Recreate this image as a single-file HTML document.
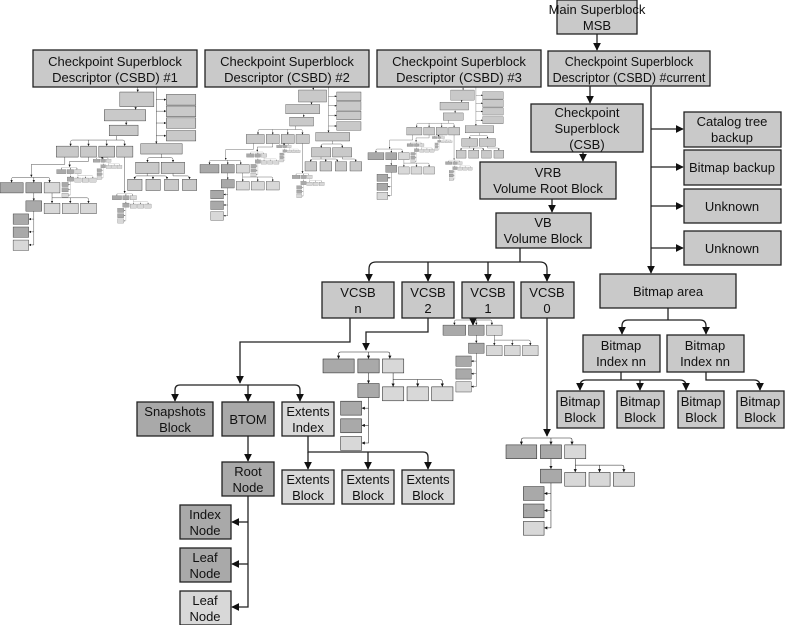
<!DOCTYPE html>
<html><head><meta charset="utf-8"><style>
html,body{margin:0;padding:0;background:#fff;width:788px;height:625px;overflow:hidden}
svg{display:block}
text{font-family:"Liberation Sans",Arial,sans-serif;font-size:13px;fill:#111;text-anchor:middle}
text.s{font-size:12.5px}
</style></head><body>
<svg width="788" height="625" viewBox="0 0 788 625" xmlns="http://www.w3.org/2000/svg">
<defs>
<marker id="a" viewBox="0 0 10 10" refX="9" refY="5" markerWidth="6" markerHeight="6" orient="auto"><path d="M0,0 L10,5 L0,10z" fill="#111"/></marker>
<g id="sub">
 <g fill="none" stroke="#222" stroke-width="1.3">
  <path d="M111,0 H43 Q38,0 38,5 V16" marker-end="url(#a)"/>
  <path d="M111,0 H158 Q163,0 163,5 V16" marker-end="url(#a)"/>
  <path d="M111,0 V16" marker-end="url(#a)"/>
  <path d="M111,51 V76" marker-end="url(#a)"/>
  <path d="M171,51 V67 H286 Q291,67 291,72 V84" marker-end="url(#a)"/>
  <path d="M171,67 V84" marker-end="url(#a)"/>
  <path d="M231,67 V84" marker-end="url(#a)"/>
  <path d="M111,111 V222 H95" marker-end="url(#a)"/>
  <path d="M111,137 H95" marker-end="url(#a)"/>
  <path d="M111,179 H95" marker-end="url(#a)"/>
 </g>
 <g stroke="#222" stroke-width="1.3">
  <rect x="0" y="17" width="76" height="34" fill="#a9a9a9"/>
  <rect x="85" y="17" width="52" height="34" fill="#a9a9a9"/>
  <rect x="145" y="17" width="52" height="34" fill="#d8d8d8"/>
  <rect x="85" y="77" width="52" height="34" fill="#a9a9a9"/>
  <rect x="145" y="85" width="52" height="34" fill="#d8d8d8"/>
  <rect x="205" y="85" width="52" height="34" fill="#d8d8d8"/>
  <rect x="265" y="85" width="52" height="34" fill="#d8d8d8"/>
  <rect x="43" y="120" width="51" height="34" fill="#a9a9a9"/>
  <rect x="43" y="163" width="51" height="34" fill="#a9a9a9"/>
  <rect x="43" y="206" width="51" height="34" fill="#d8d8d8"/>
 </g>
</g>
<g id="big">
 <g fill="none" stroke="#222" stroke-width="1.3">
  <path d="M590,86 V103" marker-end="url(#a)"/>
  <path d="M651,86 V273" marker-end="url(#a)"/>
  <path d="M651,129 H683" marker-end="url(#a)"/>
  <path d="M651,167 H683" marker-end="url(#a)"/>
  <path d="M651,206 H683" marker-end="url(#a)"/>
  <path d="M651,248 H683" marker-end="url(#a)"/>
  <path d="M583,152 V161" marker-end="url(#a)"/>
  <path d="M552,199 V212" marker-end="url(#a)"/>
  <path d="M520,248 V262"/>
  <path d="M520,262 H376 Q369,262 369,269 V281" marker-end="url(#a)"/>
  <path d="M520,262 H540 Q547,262 547,269 V281" marker-end="url(#a)"/>
  <path d="M428,262 V281" marker-end="url(#a)"/>
  <path d="M488,262 V281" marker-end="url(#a)"/>
  <path d="M350,318 V342 H240 V383" marker-end="url(#a)"/>
  <path d="M428,318 V332 H366 V350" marker-end="url(#a)"/>
  <path d="M473,318 V325" marker-end="url(#a)"/>
  <path d="M547,318 V436" marker-end="url(#a)"/>
  <path d="M668,308 V320"/>
  <path d="M668,320 H628 Q622,320 622,326 V334" marker-end="url(#a)"/>
  <path d="M668,320 H700 Q706,320 706,326 V334" marker-end="url(#a)"/>
  <path d="M621,372 V380"/>
  <path d="M621,380 H586 Q580,380 580,386 V390" marker-end="url(#a)"/>
  <path d="M621,380 H680 Q686,380 686,386 V390" marker-end="url(#a)"/>
  <path d="M640,380 V390" marker-end="url(#a)"/>
  <path d="M706,372 V380 H754 Q760,380 760,386 V390" marker-end="url(#a)"/>
 </g>
 <g stroke="#222" stroke-width="1.3" fill="#c9c9c9">
  <rect x="531" y="104" width="112" height="48"/>
  <rect x="480" y="162" width="136" height="37"/>
  <rect x="496" y="213" width="95" height="35"/>
  <rect x="684" y="112" width="97" height="35"/>
  <rect x="684" y="150" width="97" height="35"/>
  <rect x="684" y="189" width="97" height="34"/>
  <rect x="684" y="231" width="97" height="34"/>
  <rect x="600" y="274" width="136" height="34"/>
  <rect x="583" y="335" width="77" height="37"/>
  <rect x="667" y="335" width="77" height="37"/>
  <rect x="557" y="391" width="47" height="37"/>
  <rect x="617" y="391" width="47" height="37"/>
  <rect x="678" y="391" width="46" height="37"/>
  <rect x="737" y="391" width="47" height="37"/>
  <rect x="322" y="282" width="72" height="36"/>
  <rect x="402" y="282" width="52" height="36"/>
  <rect x="462" y="282" width="52" height="36"/>
  <rect x="521" y="282" width="53" height="36"/>
 </g>
 <use href="#sub" transform="translate(137,385)"/>
 <use href="#sub" transform="translate(323,352) scale(0.41)"/>
 <use href="#sub" transform="translate(443,320) scale(0.3)"/>
 <use href="#sub" transform="translate(506,438) scale(0.405)"/>
</g>
</defs>

<use href="#big" transform="translate(-41.6,60.4) scale(0.304)"/>
<use href="#big" transform="translate(165.75,64) scale(0.25)"/>
<use href="#big" transform="translate(339.2,68.2) scale(0.21)"/>

<use href="#big"/>
<g stroke="#222" stroke-width="1.3" fill="#c9c9c9">
 <rect x="557" y="0" width="80" height="34"/>
 <rect x="33" y="50" width="164" height="37"/>
 <rect x="205" y="50" width="164" height="37"/>
 <rect x="377" y="50" width="164" height="37"/>
 <rect x="548" y="51" width="162" height="35"/>
</g>
<path d="M597,34 V50" fill="none" stroke="#222" stroke-width="1.3" marker-end="url(#a)"/>

<text x="597" y="14">Main Superblock</text><text x="597" y="30">MSB</text>
<text x="115" y="66">Checkpoint Superblock</text><text x="115" y="82">Descriptor (CSBD) #1</text>
<text x="287" y="66">Checkpoint Superblock</text><text x="287" y="82">Descriptor (CSBD) #2</text>
<text x="459" y="66">Checkpoint Superblock</text><text x="459" y="82">Descriptor (CSBD) #3</text>
<text class="s" x="629" y="66">Checkpoint Superblock</text><text class="s" x="629" y="82">Descriptor (CSBD) #current</text>

<text x="587" y="117">Checkpoint</text><text x="587" y="133">Superblock</text><text x="587" y="149">(CSB)</text>
<text x="548" y="177">VRB</text><text x="548" y="193">Volume Root Block</text>
<text x="543" y="227">VB</text><text x="543" y="243">Volume Block</text>
<text x="732" y="126">Catalog tree</text><text x="732" y="142">backup</text>
<text x="732" y="172">Bitmap backup</text>
<text x="732" y="211">Unknown</text>
<text x="732" y="253">Unknown</text>
<text x="668" y="296">Bitmap area</text>
<text x="621" y="350">Bitmap</text><text x="621" y="366">Index nn</text>
<text x="705" y="350">Bitmap</text><text x="705" y="366">Index nn</text>
<text x="580" y="406">Bitmap</text><text x="580" y="422">Block</text>
<text x="640" y="406">Bitmap</text><text x="640" y="422">Block</text>
<text x="701" y="406">Bitmap</text><text x="701" y="422">Block</text>
<text x="760" y="406">Bitmap</text><text x="760" y="422">Block</text>
<text x="358" y="297">VCSB</text><text x="358" y="313">n</text>
<text x="428" y="297">VCSB</text><text x="428" y="313">2</text>
<text x="488" y="297">VCSB</text><text x="488" y="313">1</text>
<text x="547" y="297">VCSB</text><text x="547" y="313">0</text>

<text x="175" y="416">Snapshots</text><text x="175" y="432">Block</text>
<text x="248" y="424">BTOM</text>
<text x="308" y="416">Extents</text><text x="308" y="432">Index</text>
<text x="248" y="476">Root</text><text x="248" y="492">Node</text>
<text x="308" y="484">Extents</text><text x="308" y="500">Block</text>
<text x="368" y="484">Extents</text><text x="368" y="500">Block</text>
<text x="428" y="484">Extents</text><text x="428" y="500">Block</text>
<text x="205" y="519">Index</text><text x="205" y="535">Node</text>
<text x="205" y="562">Leaf</text><text x="205" y="578">Node</text>
<text x="205" y="605">Leaf</text><text x="205" y="621">Node</text>
</svg>
</body></html>
